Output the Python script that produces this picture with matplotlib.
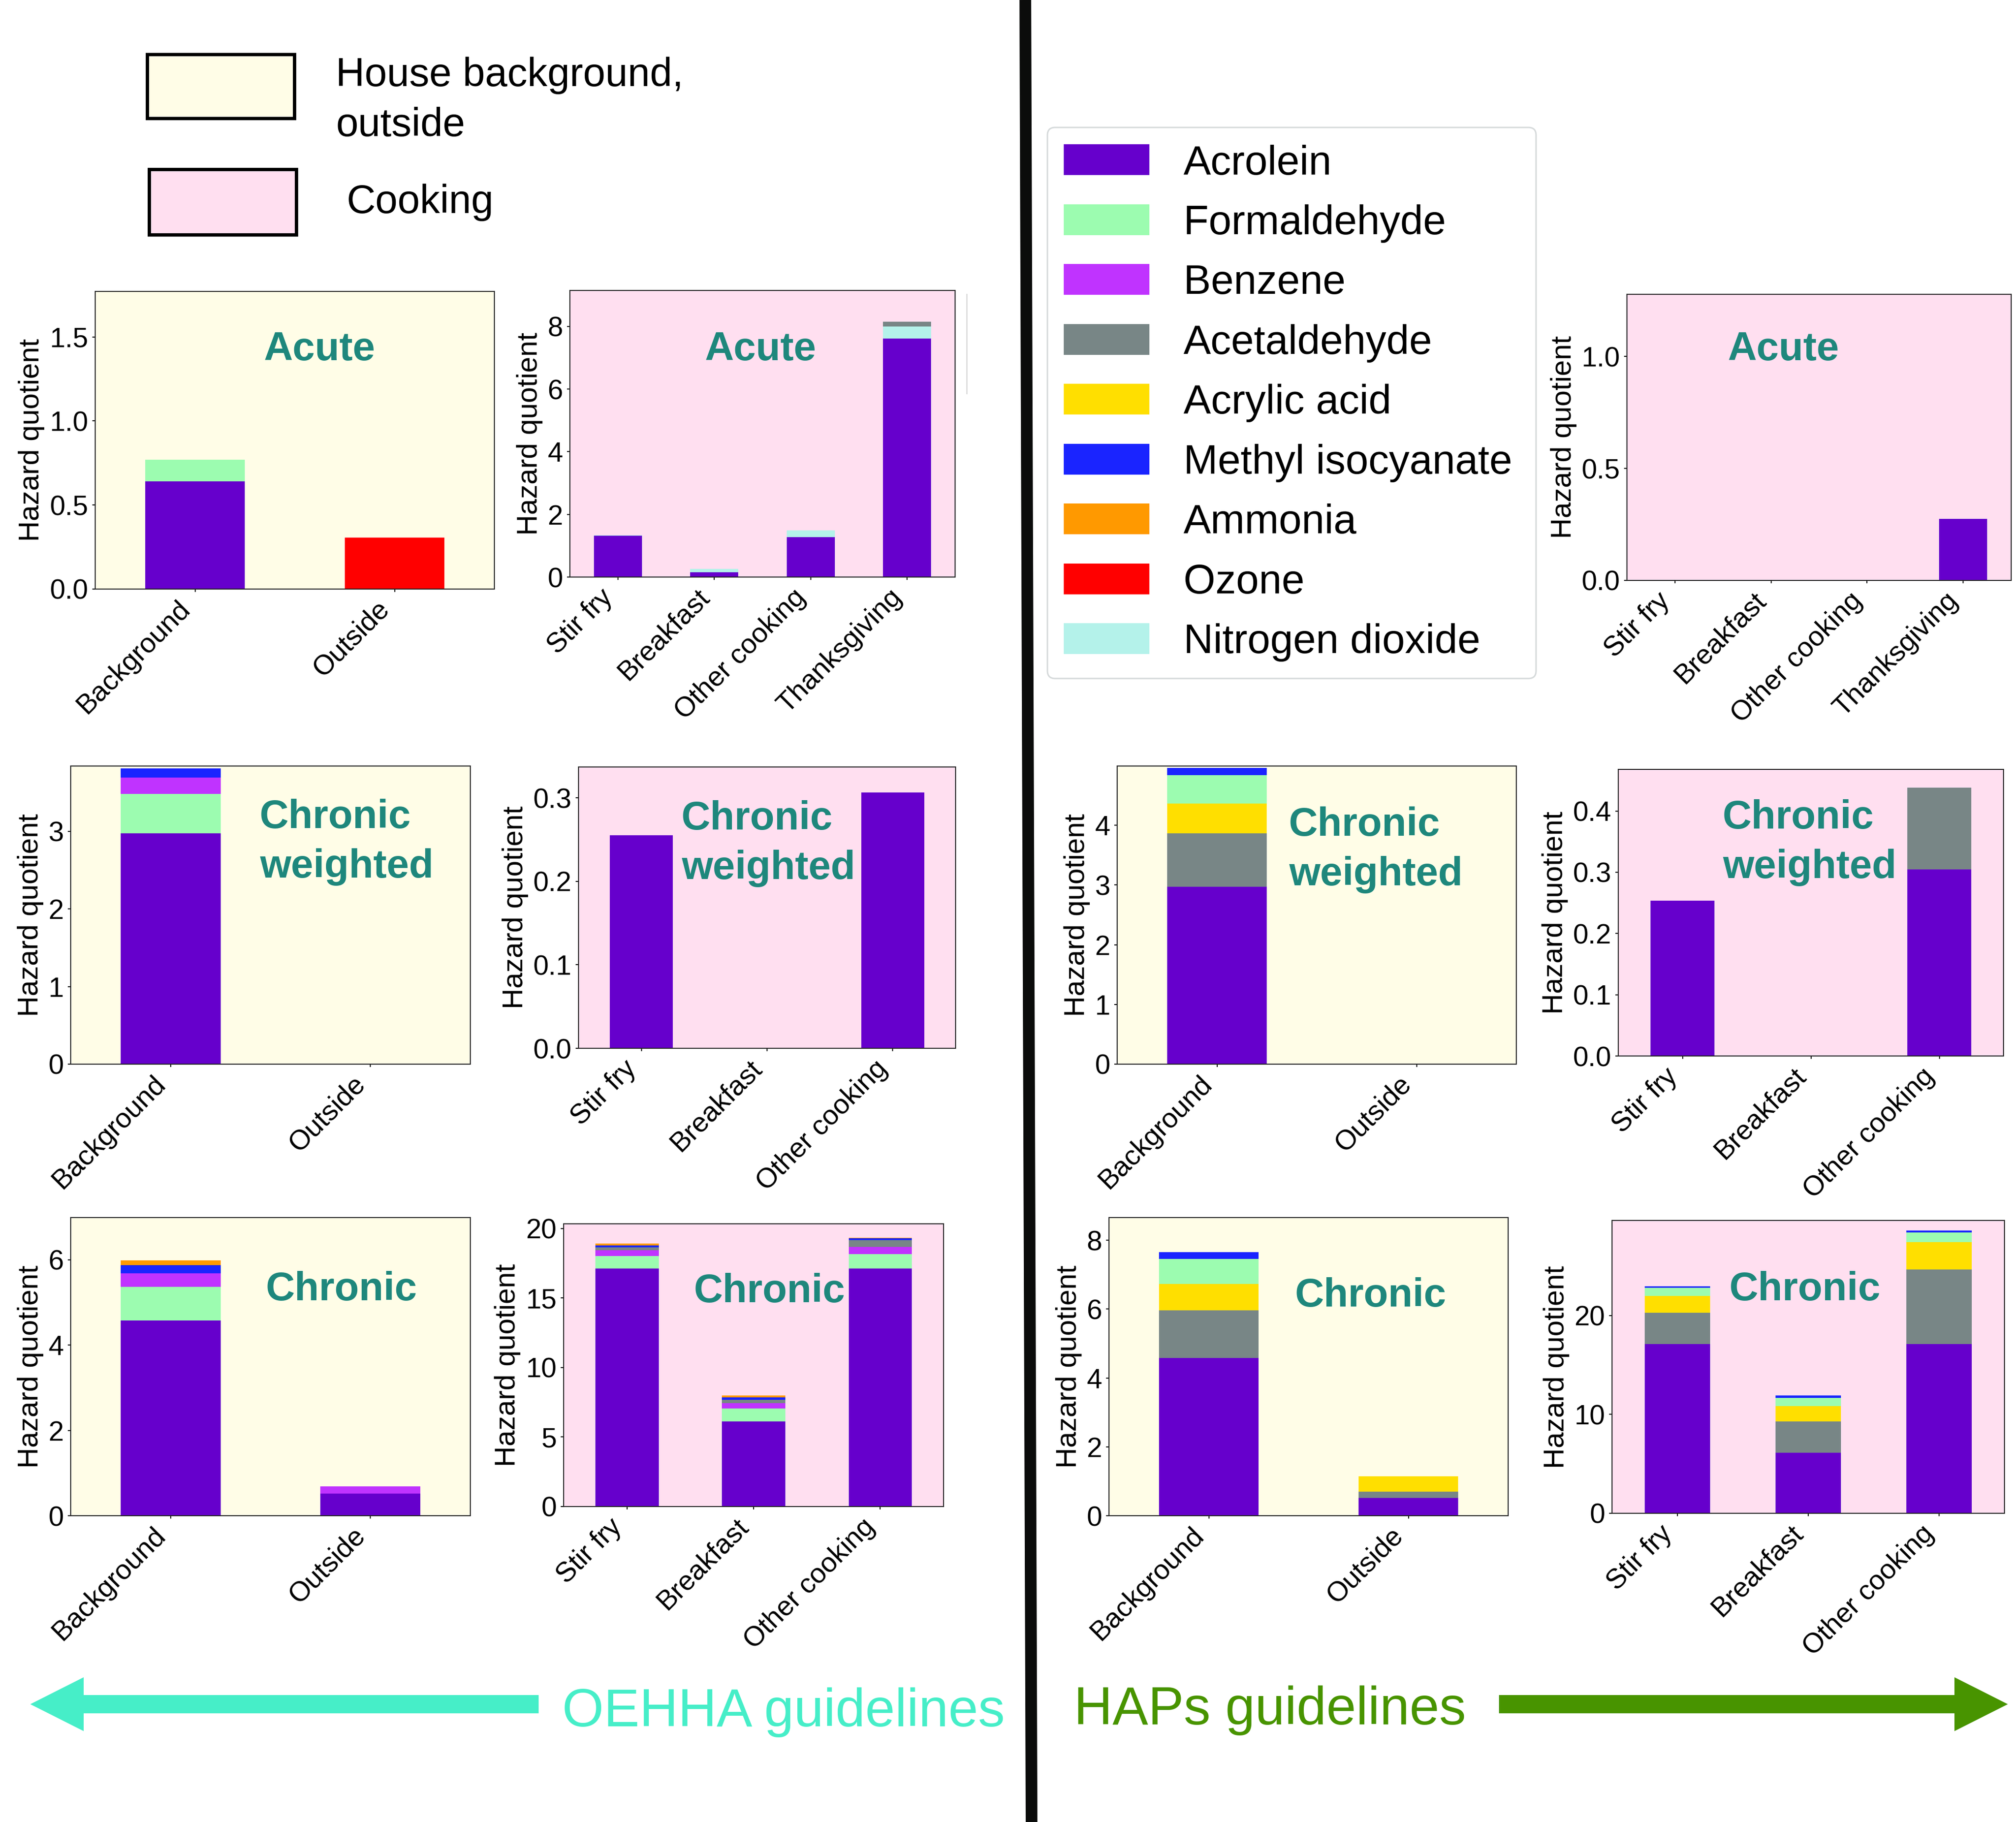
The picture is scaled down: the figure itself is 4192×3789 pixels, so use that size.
import matplotlib
matplotlib.use("Agg")
import matplotlib.pyplot as plt
import numpy as np
from matplotlib.patches import Rectangle, FancyBboxPatch, FancyArrow
from matplotlib.ticker import MultipleLocator

plt.rcParams['font.family'] = ['Liberation Sans', 'DejaVu Sans']

W, H = 4192, 3789

## chemicals and their colours
chemicals = ["Acrolein", "Formaldehyde", "Benzene", "Acetaldehyde", "Acrylic acid",
             "Methyl isocyanate", "Ammonia", "Ozone", "Nitrogen dioxide"]
colors = {"Acrolein": "#6600cc", "Formaldehyde": "#9cfcb0", "Benzene": "#c033ff",
          "Acetaldehyde": "#788686", "Acrylic acid": "#ffdf00", "Methyl isocyanate": "#1a24ff",
          "Ammonia": "#ff9900", "Ozone": "#ff0000", "Nitrogen dioxide": "#b4f2ea"}

home_cats = ["Background", "Outside"]
cook_cats_acute = ["Stir fry", "Breakfast", "Other cooking", "Thanksgiving"]
cook_cats = ["Stir fry", "Breakfast", "Other cooking"]

## OEHHA guidelines
oehha_acute_home = {"Acrolein": [0.64, 0], "Formaldehyde": [0.13, 0], "Ozone": [0, 0.306]}
oehha_acute_cook = {"Acrolein": [1.32, 0.16, 1.27, 7.62],
                    "Nitrogen dioxide": [0.02, 0.105, 0.22, 0.38],
                    "Acetaldehyde": [0, 0, 0, 0.15]}
oehha_cw_home = {"Acrolein": [2.97, 0], "Formaldehyde": [0.51, 0],
                 "Benzene": [0.21, 0], "Methyl isocyanate": [0.12, 0]}
oehha_cw_cook = {"Acrolein": [0.255, 0, 0.3066]}
oehha_chr_home = {"Acrolein": [4.576, 0.524], "Formaldehyde": [0.796, 0],
                  "Benzene": [0.311, 0.169], "Methyl isocyanate": [0.187, 0],
                  "Ammonia": [0.117, 0]}
oehha_chr_cook = {"Acrolein": [17.12, 6.14, 17.12], "Formaldehyde": [0.89, 0.93, 1.05],
                  "Benzene": [0.44, 0.38, 0.50], "Acetaldehyde": [0.20, 0.24, 0.48],
                  "Methyl isocyanate": [0.14, 0.17, 0.16], "Ammonia": [0.12, 0.14, 0.03]}

## HAPs guidelines
haps_acute_cook = {"Acrolein": [0, 0, 0, 0.2755]}
haps_cw_home = {"Acrolein": [2.97, 0], "Acetaldehyde": [0.89, 0], "Acrylic acid": [0.50, 0],
                "Formaldehyde": [0.48, 0], "Methyl isocyanate": [0.12, 0]}
haps_cw_cook = {"Acrolein": [0.254, 0, 0.305], "Acetaldehyde": [0, 0, 0.133]}
haps_chr_home = {"Acrolein": [4.577, 0.521], "Acetaldehyde": [1.379, 0.176],
                 "Acrylic acid": [0.777, 0.441], "Formaldehyde": [0.722, 0],
                 "Methyl isocyanate": [0.20, 0]}
haps_chr_cook = {"Acrolein": [17.12, 6.12, 17.12], "Acetaldehyde": [3.16, 3.15, 7.52],
                 "Acrylic acid": [1.68, 1.57, 2.79], "Formaldehyde": [0.83, 0.84, 0.98],
                 "Methyl isocyanate": [0.17, 0.22, 0.19]}

home_bg = "#fffde7"
cook_bg = "#ffdff0"
title_color = "#1e877c"

fig = plt.figure(figsize=(W / 100, H / 100), dpi=100)


def add_panel(data, cats, box, ymax, step, bg):
    # box is left, right, top, bottom in pixels
    l, r, t, b = box
    ax = fig.add_axes([l / W, 1 - b / H, (r - l) / W, (b - t) / H])
    ax.set_facecolor(bg)
    x = np.arange(len(cats))
    bottom = np.zeros(len(cats))
    for name, vals in data.items():
        vals = np.array(vals, dtype=float)
        ax.bar(x, vals, 0.5, bottom=bottom, color=colors[name], linewidth=0)
        bottom += vals
    ax.set_xlim(-0.5, len(cats) - 0.5)
    ax.set_ylim(0, ymax)
    ax.yaxis.set_major_locator(MultipleLocator(step))
    ax.set_xticks(x)
    ax.set_xticklabels(cats, rotation=45, ha='right')
    ax.tick_params(labelsize=41.5, length=4.5, width=1.5, pad=6)
    ax.set_ylabel("Hazard quotient", fontsize=43, labelpad=7)
    for s in ax.spines.values():
        s.set_linewidth(1.5)
        s.set_color("#222222")
    return ax


add_panel(oehha_acute_home, home_cats, (198, 1028, 606, 1225), 1.771, 0.5, home_bg)
add_panel(oehha_acute_cook, cook_cats_acute, (1185, 1986, 604, 1200), 9.15, 2, cook_bg)
add_panel(haps_acute_cook, cook_cats_acute, (3383, 4182, 612, 1207), 1.277, 0.5, cook_bg)

add_panel(oehha_cw_home, home_cats, (147, 978, 1593, 2213), 3.84, 1, home_bg)
add_panel(oehha_cw_cook, cook_cats, (1203, 1987, 1595, 2180), 0.337, 0.1, cook_bg)
add_panel(haps_cw_home, home_cats, (2323, 3153, 1593, 2213), 4.99, 1, home_bg)
add_panel(haps_cw_cook, cook_cats, (3365, 4166, 1600, 2196), 0.468, 0.1, cook_bg)

add_panel(oehha_chr_home, home_cats, (147, 978, 2532, 3152), 6.99, 2, home_bg)
add_panel(oehha_chr_cook, cook_cats, (1172, 1962, 2545, 3133), 20.34, 5, cook_bg)
add_panel(haps_chr_home, home_cats, (2306, 3136, 2532, 3152), 8.657, 2, home_bg)
add_panel(haps_chr_cook, cook_cats, (3352, 4168, 2538, 3147), 29.61, 10, cook_bg)

# overlay in pixel coords for the annotations
ov = fig.add_axes([0, 0, 1, 1])
ov.set_xlim(0, W)
ov.set_ylim(H, 0)
ov.axis('off')

tkw = dict(fontsize=60, fontweight='bold', color=title_color, va='baseline')
ov.text(665, 749, "Acute", ha='center', **tkw)
ov.text(1582, 749, "Acute", ha='center', **tkw)
ov.text(3709, 749, "Acute", ha='center', **tkw)
for x0, y0 in [(540, 1722), (1417, 1725), (2680, 1738), (3582, 1723)]:
    ov.text(x0, y0, "Chronic", ha='left', **tkw)
    ov.text(x0, y0 + 103, "weighted", ha='left', **tkw)
for xc, y0 in [(710, 2704), (1600, 2708), (2850, 2717), (3753, 2704)]:
    ov.text(xc, y0, "Chronic", ha='center', **tkw)

# background legend
ov.add_patch(Rectangle((306, 113), 306, 133, facecolor=home_bg, edgecolor='black', lw=5))
ov.add_patch(Rectangle((310, 352), 306, 136, facecolor=cook_bg, edgecolor='black', lw=5))
ov.text(698, 179, "House background,", fontsize=60, va='baseline')
ov.text(698, 283, "outside", fontsize=60, va='baseline')
ov.text(721, 443, "Cooking", fontsize=60, va='baseline')

# chemical legend
ov.add_patch(FancyBboxPatch((2178, 265), 1016, 1146, boxstyle="round,pad=0,rounding_size=16",
                            facecolor='white', edgecolor='#d6dadb', lw=2.2))
for i, name in enumerate(chemicals):
    yc = 332 + i * 124.5
    ov.add_patch(Rectangle((2212, yc - 32), 178, 64, facecolor=colors[name], lw=0))
    ov.text(2461, yc + 30.5, name, fontsize=61.5, va='baseline')

# leftover edge of a hidden box
ov.plot([2010, 2010], [612, 818], color='#dcdcdc', lw=2)

# dividing line
ov.plot([2132, 2145], [0, H], color='#0b0c0b', lw=17.5, solid_capstyle='butt')

# bottom arrows
ov.add_patch(FancyArrow(1120, 3544, 63 - 1120, 0, width=38, head_width=112, head_length=111,
                        length_includes_head=True, color='#46eec8', lw=0))
ov.add_patch(FancyArrow(3117, 3544, 4175 - 3117, 0, width=38, head_width=112, head_length=111,
                        length_includes_head=True, color='#489400', lw=0))
ov.text(1169, 3590, "OEHHA guidelines", fontsize=80, color='#46eec8', va='baseline')
ov.text(2233, 3586, "HAPs guidelines", fontsize=80, color='#489400', va='baseline')

fig.savefig("out.png", dpi=100)
